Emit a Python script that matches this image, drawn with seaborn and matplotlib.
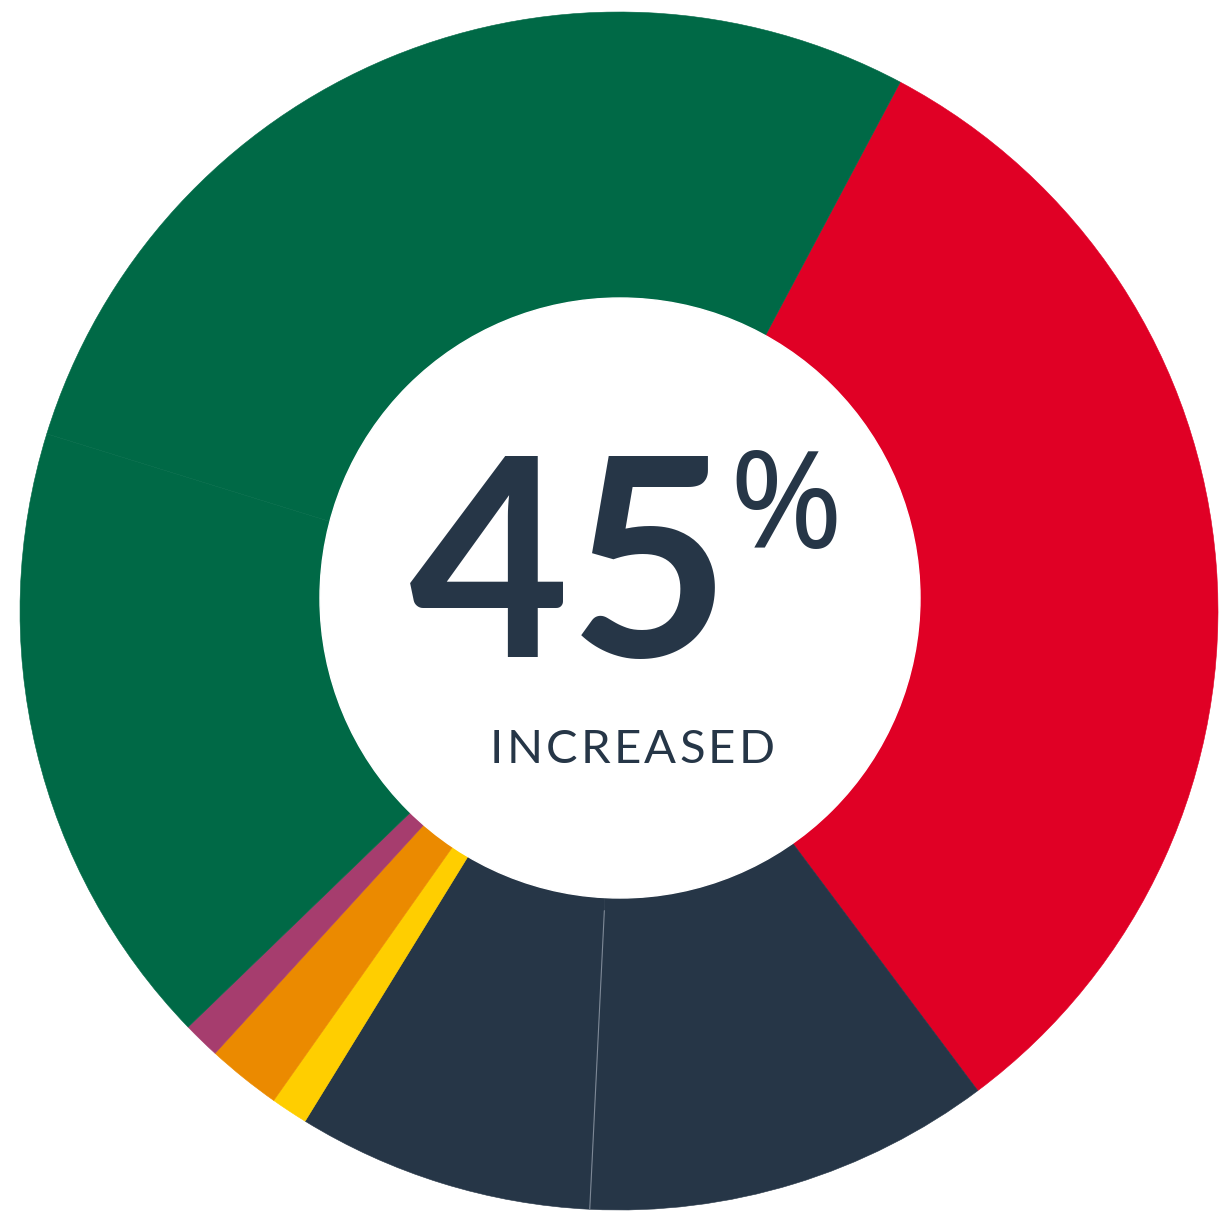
import numpy as np
import matplotlib
matplotlib.use('Agg')
import matplotlib.pyplot as plt
import seaborn as sns
from matplotlib.patches import Circle

# share of responses, clockwise from the top-right
labels = ['Decreased', 'No change A', 'No change B', 'Other 1', 'Other 2', 'Other 3',
          'Increased A', 'Increased B']
values = [32, 11, 8, 1, 2, 1, 17, 28]
colors = ['#E00025', '#263647', '#263647', '#FFCE00', '#EB8A00', '#A63D6E',
          '#006946', '#006946']
headline = '45'
caption = 'INCREASED'

sns.set_theme(style='white')
plt.rcParams['font.family'] = ['Lato', 'DejaVu Sans']

W, H = 1220, 1213
CX, CY, R = 619, H - 611, 599
START = 62

fig = plt.figure(figsize=(W / 100, H / 100), dpi=100)
ax = fig.add_axes([0, 0, 1, 1])

wedges, _ = ax.pie(values, colors=colors, startangle=START, counterclock=False,
                   center=(CX, CY), radius=R,
                   wedgeprops=dict(linewidth=0))
for w in wedges:
    w.set_edgecolor(w.get_facecolor())
    w.set_linewidth(0.4)

# faint seam between the two navy slices
ang = np.deg2rad(START - 360 * sum(values[:2]) / sum(values))
ax.plot([CX + 300 * np.cos(ang), CX + R * np.cos(ang)],
        [CY + 300 * np.sin(ang), CY + R * np.sin(ang)],
        color='#7d8896', lw=0.8, zorder=4)

ax.add_patch(Circle((620, H - 598), 300, color='white', zorder=5))

ax.text(570, H - 657, headline, ha='center', va='baseline', fontsize=200,
        fontweight='bold', color='#263647', zorder=6)
ax.text(729, H - 548, '%', ha='left', va='baseline', fontsize=98,
        family=['Noto Sans', 'DejaVu Sans'], fontweight='normal',
        color='#263647', zorder=6)


def tracked_text(x_left, y, s, size, spacing, **kw):
    renderer = fig.canvas.get_renderer()
    x = x_left
    for ch in s:
        t = ax.text(x, y, ch, ha='left', va='baseline', fontsize=size, **kw)
        bb = t.get_window_extent(renderer=renderer)
        x += bb.width + spacing


tracked_text(490, H - 763, caption, 34, 3.2, color='#263647',
             fontweight='normal', zorder=6)

ax.set_xlim(0, W)
ax.set_ylim(0, H)
ax.set_aspect('equal')
ax.axis('off')

fig.savefig('out.png', dpi=100, facecolor='white')
